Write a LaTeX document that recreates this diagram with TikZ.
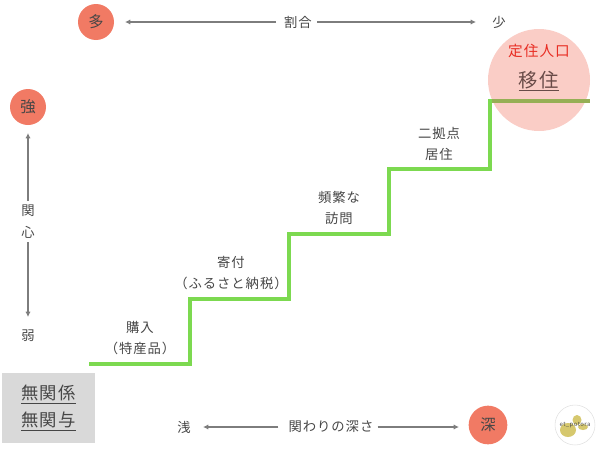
\documentclass[tikz,border=0pt]{standalone}
\usepackage{fontspec}
\usepackage{xcolor}
\setmainfont[LetterSpace=7]{Noto Sans CJK JP}
\usetikzlibrary{positioning, arrows.meta, calc}
\definecolor{cSalmon}{RGB}{241,122,100}
\definecolor{cPink}{RGB}{250,205,198}
\definecolor{cGreen}{RGB}{124,217,80}
\definecolor{cOlive}{RGB}{150,175,85}
\definecolor{cInk}{RGB}{70,70,70}
\definecolor{cBrown}{RGB}{105,75,72}
\definecolor{cAxis}{RGB}{125,125,125}
\definecolor{cGrey}{RGB}{217,217,217}
\definecolor{cRed}{RGB}{232,45,35}
\definecolor{cGold}{RGB}{214,200,110}
\tikzset{
    px/.style={x=0.75pt, y=-0.75pt},
    endcircle/.style={circle, fill=cSalmon, inner sep=0pt, text=cInk, font=\fontsize{11.5}{12}\selectfont},
    axislabel/.style={text=cInk, inner sep=0pt, font=\fontsize{10}{10}\selectfont},
    steplabel/.style={text=cInk, inner sep=0pt, align=center, font=\fontsize{10}{16}\selectfont},
    axisline/.style={draw=cAxis, line width=0.8pt, -{Latex[length=4pt, width=4pt]}}
}
\begin{document}
\begin{tikzpicture}[px]
    \useasboundingbox (0,0) rectangle (600,450);

    % target circle and the top tread
    \node[circle, fill=cPink, minimum size=76.5pt, inner sep=0pt] (TeijuCircle) at (539,80) {};
    \coordinate (StairA) at (89,364);
    \coordinate (StairB) at (190,364);
    \coordinate (StairC) at (190,299);
    \coordinate (StairD) at (289,299);
    \coordinate (StairE) at (289,234);
    \coordinate (StairF) at (389,234);
    \coordinate (StairG) at (389,169);
    \coordinate (StairH) at (490,169);
    \coordinate (StairI) at (490,101);
    \coordinate (StairJ) at (590,101);
    \draw[cGreen, line width=3pt] (StairA) -- (StairB) -- (StairC) -- (StairD) -- (StairE)
        -- (StairF) -- (StairG) -- (StairH) -- (StairI) -- ++(2,0);
    \draw[cOlive, line width=3pt] (StairI) ++(2,0) -- (StairJ);

    \node[text=cRed, inner sep=0pt, font=\fontsize{11}{12}\selectfont] (Teiju) at (539,51) {定住人口};
    \node[text=cBrown, inner sep=0pt, font=\fontsize{14.5}{15}\selectfont] (Iju) at (539,81) {\underline{移住}};

    % top axis
    \node[endcircle, minimum size=27pt] (Ooi) at (96,22) {多};
    \node[axislabel] (Wariai) at (298,22) {割合};
    \node[axislabel] (Sukunai) at (499,22) {少};
    \coordinate (OoiEnd) at (125,22);
    \coordinate (SukunaiEnd) at (476,22);
    \draw[axisline] (Wariai) ++(-22,0) coordinate (WariaiL) -- (OoiEnd);
    \draw[axisline] (Wariai) ++(19,0) coordinate (WariaiR) -- (SukunaiEnd);

    % left axis
    \node[endcircle, minimum size=27pt] (Tsuyoi) at (28,107) {強};
    \node[axislabel] (Kan) at (28,211) {関};
    \node[axislabel] (Shin) at (28,232) {心};
    \node[axislabel] (Yowai) at (28,336) {弱};
    \coordinate (TsuyoiEnd) at (28,133);
    \coordinate (YowaiEnd) at (28,317);
    \draw[axisline] (Kan) ++(0,-10) -- (TsuyoiEnd);
    \draw[axisline] (Shin) ++(0,10) -- (YowaiEnd);

    % bottom axis
    \node[fill=cGrey, minimum width=70pt, minimum height=52.5pt, inner sep=0pt] (Mukankei) at (48.5,408) {};
    \node[text=cInk, inner sep=0pt, align=center, font=\fontsize{13}{20}\selectfont] (MukankeiText) at (48.5,408) {\underline{無関係}\\\underline{無関与}};
    \node[axislabel] (Asai) at (184,427) {浅};
    \node[axislabel] (Kakawari) at (331,427) {関わりの深さ};
    \node[endcircle, minimum size=29pt] (Fukai) at (488,425) {深};
    \coordinate (AsaiEnd) at (203,427);
    \coordinate (FukaiEnd) at (459,427);
    \draw[axisline] (Kakawari.west) ++(-10,0) -- (AsaiEnd);
    \draw[axisline] (Kakawari.east) ++(4,0) -- (FukaiEnd);

    % stair labels
    \node[steplabel] (Konyu) at (140,338) {購入\\（特産品）};
    \node[steplabel] (Kifu) at (231,273) {寄付\\（ふるさと納税）};
    \node[steplabel] (Homon) at (339,208) {頻繁な\\訪問};
    \node[steplabel] (Nikyoten) at (439,144) {二拠点\\居住};

    % logo
    \node[circle, draw=black!12, fill=white, minimum size=30pt, inner sep=0pt] (Logo) at (575,425) {};
    \fill[cGold] (568,430) ellipse (8 and 7);
    \fill[cGold] (577,420) ellipse (4.5 and 5);
    \fill[cGold] (583,427) ellipse (5 and 3);
    \node[text=black!70, inner sep=0pt, font=\fontsize{4.5}{5}\selectfont] (LogoText) at (575,425) {et\_potora};
\end{tikzpicture}
\end{document}
